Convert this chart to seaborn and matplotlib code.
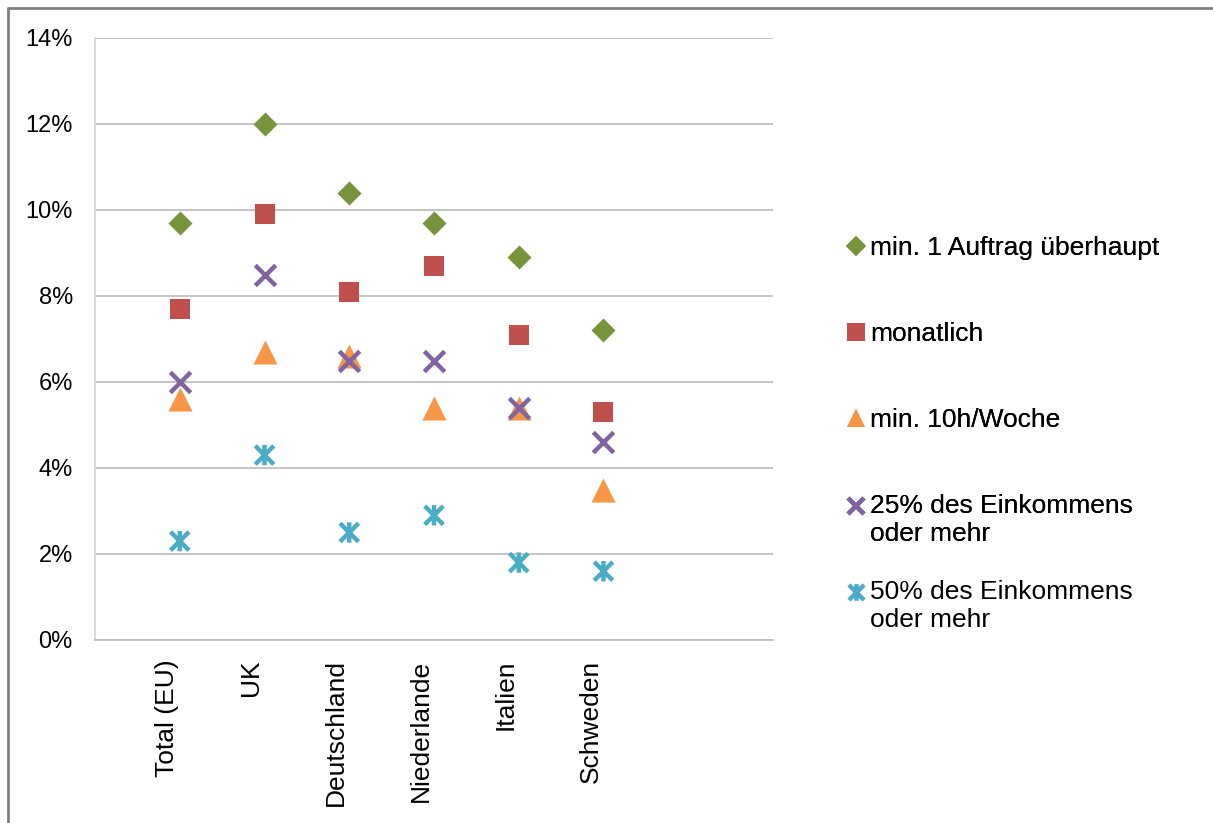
import numpy as np
import pandas as pd
import seaborn as sns
import matplotlib.pyplot as plt
from matplotlib.path import Path
from matplotlib.lines import Line2D
from matplotlib.legend_handler import HandlerLine2D
from matplotlib.ticker import PercentFormatter
from matplotlib.transforms import ScaledTranslation

# Share of respondents doing platform work, by country and intensity (%)
countries = ["Total (EU)", "UK", "Deutschland", "Niederlande", "Italien", "Schweden"]
series_names = [
    "min. 1 Auftrag überhaupt",
    "monatlich",
    "min. 10h/Woche",
    "25% des Einkommens\noder mehr",
    "50% des Einkommens\noder mehr",
]
any_job = [9.7, 12.0, 10.4, 9.7, 8.9, 7.2]
monthly = [7.7, 9.9, 8.1, 8.7, 7.1, 5.3]
weekly_10h = [5.6, 6.7, 6.6, 5.4, 5.4, 3.5]
income_25 = [6.0, 8.5, 6.5, 6.5, 5.4, 4.6]
income_50 = [2.3, 4.3, 2.5, 2.9, 1.8, 1.6]
y_ticks = [0, 2, 4, 6, 8, 10, 12, 14]

values = [any_job, monthly, weekly_10h, income_25, income_50]
colors = ["#77933C", "#C0504D", "#F79646", "#8064A2", "#4BACC6"]

# Asterisk marker: an X crossed by a vertical bar
star = Path(
    [(-1, -1), (1, 1), (-1, 1), (1, -1), (0, -1.1), (0, 1.1)],
    [Path.MOVETO, Path.LINETO, Path.MOVETO, Path.LINETO, Path.MOVETO, Path.LINETO],
)

styles = [
    dict(marker="D", s=150, linewidth=0),
    dict(marker="s", s=205, linewidth=0),
    dict(marker="^", s=300, linewidth=0),
    dict(marker="x", s=215, linewidth=3.2),
    dict(marker=star, s=215, linewidth=3.2),
]

pos = np.arange(1, len(countries) + 1)
df = pd.DataFrame(
    [
        dict(pos=p, country=c, series=name, value=v)
        for name, vals in zip(series_names, values)
        for p, c, v in zip(pos, countries, vals)
    ]
)

sns.set_theme(style="white")
plt.rcParams["font.family"] = ["Liberation Sans", "DejaVu Sans"]
plt.rcParams.update({"text.color": "black", "xtick.color": "black",
                     "ytick.color": "black", "axes.labelcolor": "black"})

fig = plt.figure(figsize=(12.13, 8.23), dpi=100)
W, H = 1213, 823
ax = fig.add_axes([95 / W, 1 - 640 / H, (773 - 95) / W, (640 - 38) / H])

for name, color, st in zip(series_names, colors, styles):
    sub = df[df["series"] == name]
    kw = dict(st)
    if name.startswith("50%"):
        kw.update(facecolor="none", edgecolor=color)
    else:
        kw.update(color=color)
    sns.scatterplot(data=sub, x="pos", y="value", ax=ax, legend=False,
                    zorder=3, **kw)

ax.set_xlim(0, 8)
ax.set_ylim(0, 14)
ax.set_yticks(y_ticks)
ax.yaxis.set_major_formatter(PercentFormatter(decimals=0))
ax.set_xticks(pos)
ax.set_xticklabels(countries, rotation=90, fontsize=19)
ax.set_xlabel("")
ax.set_ylabel("")
ax.grid(axis="y", color="#BFBFBF", linewidth=1.3)
ax.set_axisbelow(True)
ax.tick_params(axis="x", length=0, pad=14, colors="black")
ax.tick_params(axis="y", length=0, pad=16, labelsize=17, colors="black")
for lab in ax.get_xticklabels():
    lab.set_transform(lab.get_transform() + ScaledTranslation(-0.13, 0, fig.dpi_scale_trans))
for side in ["top", "right"]:
    ax.spines[side].set_visible(False)
ax.spines["left"].set_color("#D9D9D9")
ax.spines["left"].set_linewidth(1.3)
ax.spines["bottom"].set_color("#BFBFBF")
ax.spines["bottom"].set_linewidth(1.3)


class FirstLineHandler(HandlerLine2D):
    """Legend handler that lifts the marker to the first line of a two-line label."""

    def __init__(self, shift=0.0, **kw):
        super().__init__(**kw)
        self.shift = shift

    def create_artists(self, legend, orig_handle, xdescent, ydescent, width,
                       height, fontsize, trans):
        artists = super().create_artists(legend, orig_handle, xdescent, ydescent,
                                         width, height, fontsize, trans)
        for a in artists:
            a.set_ydata(np.asarray(a.get_ydata(), dtype=float) + self.shift)
        return artists


# Legend markers
handles = []
for name, color, st in zip(series_names, colors, styles):
    if name.startswith("50%"):
        h = Line2D([], [], linestyle="", marker=st["marker"], markersize=12,
                   markerfacecolor="none", markeredgecolor=color, markeredgewidth=3.2)
    elif name.startswith("25%"):
        h = Line2D([], [], linestyle="", marker="x", markersize=12,
                   markeredgecolor=color, markeredgewidth=3.2)
    else:
        ms = {"D": 9.8, "s": 13, "^": 13.5}[st["marker"]]
        h = Line2D([], [], linestyle="", marker=st["marker"], markersize=ms,
                   color=color, markeredgewidth=0)
    handles.append(h)

lift = FirstLineHandler(shift=10.0)
legend_kw = dict(loc="upper left", frameon=False, fontsize=19, labelspacing=2.35,
                 handlelength=0.8, handletextpad=0.15, borderpad=0, borderaxespad=0,
                 handler_map={handles[3]: lift, handles[4]: lift})
leg_top = fig.legend(handles[:4], series_names[:4],
                     bbox_to_anchor=(845 / W, 1 - 236 / H), **legend_kw)
fig.legend(handles[4:], series_names[4:],
           bbox_to_anchor=(845 / W, 1 - 580 / H), **legend_kw)
fig.add_artist(leg_top)

# Outer chart-area border
fig.add_artist(Line2D([8 / W, 8 / W], [0, 1 - 8 / H], color="#808080", linewidth=2,
                      transform=fig.transFigure))
fig.add_artist(Line2D([8 / W, 1], [1 - 8 / H, 1 - 8 / H], color="#808080", linewidth=2,
                      transform=fig.transFigure))

fig.savefig("out.png", dpi=100)
